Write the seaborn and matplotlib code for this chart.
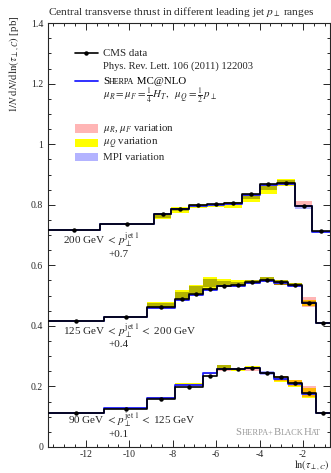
import numpy as np
import matplotlib
matplotlib.use("Agg")
import matplotlib.pyplot as plt
from matplotlib.ticker import MultipleLocator, FuncFormatter
import seaborn as sns

# bin edges in ln(tau_perp,C)
top_edges = [-13.75, -11.35, -8.87, -8.06, -7.25, -6.43, -5.62, -4.81, -4.0, -3.19, -2.37, -1.56, -0.75]
mid_edges = [-13.75, -11.15, -9.2, -7.9, -7.25, -6.6, -5.95, -5.3, -4.65, -4.0, -3.35, -2.7, -2.05, -1.4, -0.75]
bot_edges = [-13.75, -11.15, -9.2, -7.9, -6.6, -5.95, -5.3, -4.65, -4.0, -3.35, -2.7, -2.05, -1.4, -0.75]

# 200 GeV < pT (+0.7)
top_data = [0.017, 0.037, 0.069, 0.087, 0.098, 0.103, 0.107, 0.137, 0.170, 0.172, 0.097, 0.012]
top_err = [0.002, 0.002, 0.002, 0.003, 0.002, 0.002, 0.002, 0.003, 0.003, 0.003, 0.002, 0.001]
top_mc = [0.017, 0.037, 0.068, 0.085, 0.097, 0.101, 0.103, 0.131, 0.164, 0.169, 0.096, 0.011]
top_scale_lo = [0.016, 0.036, 0.066, 0.083, 0.095, 0.099, 0.101, 0.129, 0.162, 0.167, 0.095, 0.010]
top_scale_hi = [0.018, 0.038, 0.069, 0.086, 0.098, 0.102, 0.104, 0.132, 0.165, 0.171, 0.111, 0.013]
top_q_lo = [0.015, 0.033, 0.054, 0.072, 0.089, 0.092, 0.090, 0.108, 0.136, 0.161, 0.094, 0.011]
top_q_hi = [0.018, 0.038, 0.070, 0.092, 0.102, 0.104, 0.110, 0.137, 0.169, 0.185, 0.099, 0.013]
top_mpi_lo = [0.016, 0.036, 0.055, 0.080, 0.096, 0.100, 0.103, 0.120, 0.150, 0.165, 0.087, 0.010]
top_mpi_hi = [0.018, 0.038, 0.070, 0.090, 0.099, 0.103, 0.109, 0.135, 0.168, 0.183, 0.098, 0.012]

# 125 GeV < pT < 200 GeV (+0.4)
mid_data = [0.016, 0.029, 0.061, 0.088, 0.106, 0.123, 0.132, 0.134, 0.144, 0.153, 0.145, 0.136, 0.077, 0.009]
mid_err = [0.002, 0.002, 0.002, 0.002, 0.002, 0.002, 0.002, 0.002, 0.002, 0.003, 0.002, 0.002, 0.002, 0.001]
mid_mc = [0.016, 0.029, 0.060, 0.085, 0.103, 0.120, 0.131, 0.133, 0.141, 0.147, 0.142, 0.132, 0.076, 0.009]
mid_scale_lo = [0.015, 0.028, 0.056, 0.082, 0.100, 0.117, 0.127, 0.129, 0.139, 0.145, 0.134, 0.128, 0.062, 0.008]
mid_scale_hi = [0.017, 0.030, 0.061, 0.087, 0.105, 0.122, 0.132, 0.134, 0.143, 0.150, 0.148, 0.140, 0.095, 0.010]
mid_q_lo = [0.016, 0.029, 0.062, 0.087, 0.106, 0.121, 0.128, 0.128, 0.139, 0.147, 0.135, 0.132, 0.067, 0.009]
mid_q_hi = [0.019, 0.032, 0.079, 0.120, 0.136, 0.163, 0.154, 0.150, 0.151, 0.161, 0.150, 0.143, 0.087, 0.011]
mid_mpi_lo = [0.015, 0.028, 0.062, 0.090, 0.108, 0.127, 0.133, 0.133, 0.140, 0.147, 0.135, 0.132, 0.072, 0.008]
mid_mpi_hi = [0.017, 0.030, 0.075, 0.112, 0.131, 0.154, 0.149, 0.145, 0.150, 0.161, 0.150, 0.143, 0.082, 0.010]

# 90 GeV < pT < 125 GeV (+0.1)
bot_data = [0.011, 0.027, 0.057, 0.097, 0.135, 0.156, 0.156, 0.160, 0.146, 0.131, 0.110, 0.077, 0.011]
bot_err = [0.001, 0.002, 0.002, 0.002, 0.003, 0.002, 0.002, 0.002, 0.002, 0.002, 0.002, 0.002, 0.001]
bot_mc = [0.012, 0.028, 0.062, 0.106, 0.143, 0.156, 0.158, 0.161, 0.143, 0.126, 0.107, 0.076, 0.011]
bot_scale_lo = [0.011, 0.027, 0.060, 0.103, 0.140, 0.150, 0.153, 0.150, 0.141, 0.118, 0.103, 0.066, 0.010]
bot_scale_hi = [0.013, 0.029, 0.064, 0.108, 0.146, 0.158, 0.160, 0.165, 0.146, 0.134, 0.121, 0.101, 0.012]
bot_q_lo = [0.011, 0.027, 0.061, 0.104, 0.141, 0.154, 0.150, 0.158, 0.141, 0.115, 0.097, 0.062, 0.009]
bot_q_hi = [0.013, 0.029, 0.066, 0.110, 0.146, 0.170, 0.160, 0.167, 0.145, 0.134, 0.121, 0.094, 0.012]
bot_mpi_lo = [0.011, 0.027, 0.060, 0.104, 0.141, 0.154, 0.155, 0.159, 0.138, 0.121, 0.105, 0.074, 0.010]
bot_mpi_hi = [0.013, 0.029, 0.064, 0.108, 0.145, 0.170, 0.160, 0.163, 0.150, 0.128, 0.110, 0.079, 0.012]

offsets = [0.7, 0.4, 0.1]

PINK = (1.0, 0.71, 0.71)
YELLOW = (1.0, 1.0, 0.0)
LAVENDER = (0.70, 0.70, 1.0)

sns.set_style("ticks")
plt.rcParams["font.family"] = ["Liberation Serif", "DejaVu Serif"]
plt.rcParams["mathtext.fontset"] = "stix"
plt.rcParams["axes.unicode_minus"] = False

fig = plt.figure(figsize=(3.31, 4.73), dpi=100)
ax = fig.add_axes([0.145, 0.055, 0.852, 0.896])


def draw_bands(edges, off, bands):
    # overlapping bands are combined like a multiply blend
    for i in range(len(edges) - 1):
        cuts = sorted(set([b[0][i] for b in bands] + [b[1][i] for b in bands]))
        for a, b in zip(cuts[:-1], cuts[1:]):
            mid = 0.5 * (a + b)
            col = np.ones(3)
            hit = False
            for lo, hi, c in bands:
                if lo[i] <= mid <= hi[i]:
                    col = col * np.array(c)
                    hit = True
            if hit:
                ax.bar(edges[i], b - a, width=edges[i + 1] - edges[i], bottom=a + off,
                       align="edge", color=tuple(col), linewidth=0, zorder=1)


def draw_hist(edges, vals, off, color, lw, z):
    y = np.append(vals, vals[-1]) + off
    sns.lineplot(x=edges, y=y, drawstyle="steps-post", color=color, lw=lw,
                 sort=False, estimator=None, ax=ax, zorder=z)


def small_caps(x, y, pieces, transform, color="black"):
    # pieces: list of (text, size) chained along one baseline
    t = ax.text(x, y, pieces[0][0], transform=transform, fontsize=pieces[0][1],
                color=color, va="center")
    for txt, size in pieces[1:]:
        t = ax.annotate(txt, xy=(1, 0), xycoords=t, fontsize=size, color=color,
                        va="bottom", ha="left")
    return t


series = [
    (top_edges, top_data, top_err, top_mc, top_scale_lo, top_scale_hi, top_q_lo, top_q_hi, top_mpi_lo, top_mpi_hi),
    (mid_edges, mid_data, mid_err, mid_mc, mid_scale_lo, mid_scale_hi, mid_q_lo, mid_q_hi, mid_mpi_lo, mid_mpi_hi),
    (bot_edges, bot_data, bot_err, bot_mc, bot_scale_lo, bot_scale_hi, bot_q_lo, bot_q_hi, bot_mpi_lo, bot_mpi_hi),
]

for (edges, data, err, mc, slo, shi, qlo, qhi, mlo, mhi), off in zip(series, offsets):
    draw_bands(edges, off, [(slo, shi, PINK), (qlo, qhi, YELLOW), (mlo, mhi, LAVENDER)])
    draw_hist(edges, mc, off, "#2020ff", 1.3, 2)
    draw_hist(edges, data, off, "black", 1.2, 3)
    e = np.array(edges)
    centers = 0.5 * (e[:-1] + e[1:])
    ax.errorbar(centers, np.array(data) + off, yerr=err, fmt="o", ms=2.2, color="black",
                elinewidth=0.8, capsize=0, zorder=4)

ax.set_xlim(-13.75, -0.75)
ax.set_ylim(0, 1.4)
ax.set_xlabel("")
ax.set_ylabel("")
ax.xaxis.set_major_locator(MultipleLocator(2))
ax.xaxis.set_minor_locator(MultipleLocator(0.5))
ax.yaxis.set_major_locator(MultipleLocator(0.2))
ax.yaxis.set_minor_locator(MultipleLocator(0.05))
ax.yaxis.set_major_formatter(FuncFormatter(lambda v, p: "%g" % round(v, 2)))
ax.xaxis.set_major_formatter(FuncFormatter(lambda v, p: "%g" % v))
ax.tick_params(which="both", direction="in", top=True, right=True, width=0.7, labelsize=7)
ax.tick_params(axis="x", which="major", pad=2)
ax.tick_params(which="major", length=5)
ax.tick_params(which="minor", length=2.5)
for s in ax.spines.values():
    s.set_linewidth(0.8)

# legend, drawn by hand
tr = ax.transAxes
fs = 7.8
ax.plot([0.096, 0.177], [0.929, 0.929], color="black", lw=1.2, transform=tr)
ax.plot([0.1365], [0.929], "o", ms=2.2, color="black", transform=tr)
ax.text(0.195, 0.929, "CMS data", transform=tr, fontsize=fs, va="center")
ax.text(0.195, 0.898, "Phys. Rev. Lett. 106 (2011) 122003", transform=tr, fontsize=fs - 0.2, va="center")
ax.plot([0.096, 0.177], [0.863, 0.863], color="#2020ff", lw=1.3, transform=tr)
small_caps(0.195, 0.863, [("S", fs), ("HERPA", fs - 2), (" MC@NLO", fs)], tr)
ax.text(0.195, 0.829, r"$\mu_R = \mu_F = \frac{1}{4}\,H_T,\ \ \mu_Q = \frac{1}{2}\,p_\perp$",
        transform=tr, fontsize=fs, va="center")
for yy, col, lab in [(0.752, PINK, r"$\mu_R$, $\mu_F$ variation"),
                     (0.717, YELLOW, r"$\mu_Q$ variation"),
                     (0.684, LAVENDER, "MPI variation")]:
    ax.fill_between([0.096, 0.177], yy - 0.01, yy + 0.01, color=col, lw=0, transform=tr)
    ax.text(0.195, yy, lab, transform=tr, fontsize=fs, va="center")

# series labels
ax.text(-13.06, 0.684, r"200 GeV $<\, p_\perp^{\rm jet\ 1}$", fontsize=fs + 0.2, va="center")
ax.text(-10.95, 0.636, "+0.7", fontsize=fs + 0.2, va="center")
ax.text(-13.06, 0.386, r"125 GeV $<\, p_\perp^{\rm jet\ 1}\, <$ 200 GeV", fontsize=fs + 0.2, va="center")
ax.text(-10.95, 0.337, "+0.4", fontsize=fs + 0.2, va="center")
ax.text(-12.85, 0.089, r"90 GeV $<\, p_\perp^{\rm jet\ 1}\, <$ 125 GeV", fontsize=fs + 0.2, va="center")
ax.text(-10.95, 0.040, "+0.1", fontsize=fs + 0.2, va="center")
small_caps(0.665, 0.035, [("S", 7.7), ("HERPA+", 6.0), ("B", 7.7), ("LACK", 6.0), ("H", 7.7), ("AT", 6.0)],
           tr, color="#999999")

fig.text(0.145, 0.975, r"Central transverse thrust in different leading jet $p_\perp$ ranges",
         fontsize=8.2, va="center", ha="left")
fig.text(0.045, 0.865, r"$1/N\;\mathrm{d}N/\mathrm{d}\ln(\tau_{\perp,C})$ [pb]",
         fontsize=fs, rotation=90, va="center", ha="center")
fig.text(0.997, 0.016, r"$\ln(\tau_{\perp,C})$", fontsize=7.4, ha="right", va="center")

fig.savefig("out.png", dpi=100)
